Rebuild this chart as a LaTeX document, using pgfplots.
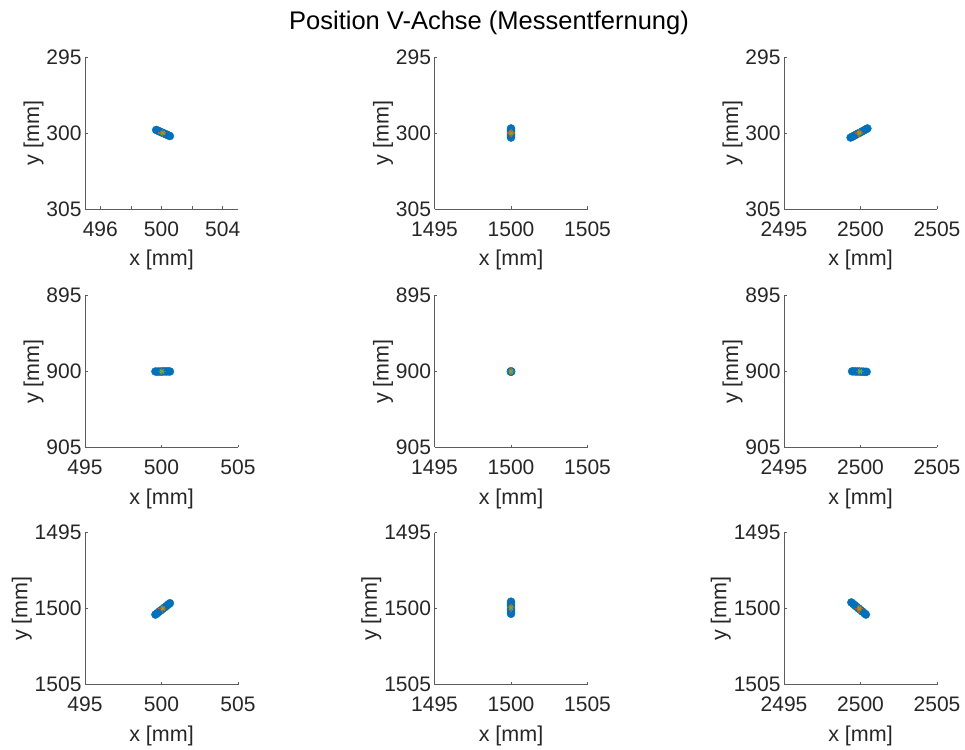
\documentclass[border=0pt]{standalone}
\usepackage{pgfplots}
\pgfplotsset{compat=1.18}
\usepackage{fontspec}
\setmainfont{Liberation Sans}
\definecolor{mblue}{RGB}{0,114,189}
\definecolor{morange}{RGB}{217,83,25}
\definecolor{mgreen}{RGB}{119,172,48}
\definecolor{axc}{RGB}{38,38,38}
\pgfplotsset{
 panel/.style={
  scale only axis, width=153pt, height=152pt,
  anchor=north west,
  axis x line=bottom, axis y line=left,
  axis line style={-, draw=axc!75, line width=0.6pt},
  y dir=reverse,
  tick style={draw=axc!75, line width=0.6pt},
  major tick length=2.5pt,
  tick align=inside,
  tick label style={font=\fontsize{21}{24}\selectfont, text=axc},
  xticklabel style={yshift=-9pt},
  label style={font=\fontsize{21.5}{24}\selectfont, text=axc},
  xlabel style={yshift=-7pt},
  ylabel style={yshift=-4pt},
  /pgf/number format/assume math mode=true,
  /pgf/number format/1000 sep={},
  xlabel={x [mm]}, ylabel={y [mm]},
  clip=false,
 },
 pblue/.style={only marks, mark=*, mark size=4pt, mark options={draw=mblue, fill=mblue}},
 pgreen/.style={only marks, mark=x, mark size=2.8pt, mark options={draw=mgreen, line width=1.3pt}},
 porange/.style={only marks, mark=+, mark size=4pt, mark options={draw=morange, line width=1.3pt}},
}
\begin{document}
\begin{tikzpicture}
\path (0pt,0pt) rectangle (965pt,747pt);
\node[font=\fontsize{25.5}{28}\selectfont, text=black] at (489pt,724pt) {Position V-Achse (Messentfernung)};
% Row 1
\begin{axis}[panel, at={(85pt,690pt)}, xmin=495, xmax=505, ymin=295, ymax=305,
  xtick={496,498,500,502,504}, xticklabels={496,,500,,504}, ytick={295,300,305}]
\addplot[pblue] coordinates {(499.65,299.80) (499.75,299.84) (499.85,299.89) (499.95,299.93) (500.05,299.98) (500.15,300.02) (500.25,300.07) (500.35,300.11) (500.45,300.16) (500.55,300.20)};
\addplot[porange] coordinates {(500.05,300.00)};
\addplot[pgreen] coordinates {(500.08,300.00)};
\end{axis}
\begin{axis}[panel, at={(434.5pt,690pt)}, xmin=1495, xmax=1505, ymin=295, ymax=305,
  xtick={1495,1500,1505}, ytick={295,300,305}]
\addplot[pblue] coordinates {(1500,299.70) (1500,299.78) (1500,299.85) (1500,299.93) (1500,300.00) (1500,300.08) (1500,300.15) (1500,300.23) (1500,300.30)};
\addplot[porange] coordinates {(1500,300.00)};
\addplot[pgreen] coordinates {(1500,300.00)};
\end{axis}
\begin{axis}[panel, at={(784pt,690pt)}, xmin=2495, xmax=2505, ymin=295, ymax=305,
  xtick={2495,2500,2505}, ytick={295,300,305}]
\addplot[pblue] coordinates {(2499.35,300.30) (2499.47,300.24) (2499.60,300.17) (2499.72,300.10) (2499.85,300.03) (2499.97,299.97) (2500.10,299.90) (2500.22,299.83) (2500.35,299.76) (2500.45,299.70)};
\addplot[porange] coordinates {(2499.90,300.00)};
\addplot[pgreen] coordinates {(2499.92,300.00)};
\end{axis}
% Row 2
\begin{axis}[panel, at={(85pt,451.5pt)}, xmin=495, xmax=505, ymin=895, ymax=905,
  xtick={495,500,505}, ytick={895,900,905}]
\addplot[pblue] coordinates {(499.60,900.00) (499.72,900.01) (499.84,900.00) (499.96,900.01) (500.08,900.00) (500.20,899.99) (500.32,900.00) (500.44,899.99) (500.55,900.00)};
\addplot[porange] coordinates {(500.00,900.00)};
\addplot[pgreen] coordinates {(500.02,900.00)};
\end{axis}
\begin{axis}[panel, at={(434.5pt,451.5pt)}, xmin=1495, xmax=1505, ymin=895, ymax=905,
  xtick={1495,1500,1505}, ytick={895,900,905}]
\addplot[pblue] coordinates {(1500.00,899.98) (1500.01,900.00) (1500.00,900.02) (1499.99,900.01)};
\addplot[porange] coordinates {(1500,900.00)};
\addplot[pgreen] coordinates {(1500,900.00)};
\end{axis}
\begin{axis}[panel, at={(784pt,451.5pt)}, xmin=2495, xmax=2505, ymin=895, ymax=905,
  xtick={2495,2500,2505}, ytick={895,900,905}]
\addplot[pblue] coordinates {(2499.45,899.99) (2499.57,899.99) (2499.69,900.00) (2499.81,900.00) (2499.93,900.00) (2500.05,900.01) (2500.17,900.01) (2500.29,900.02) (2500.40,900.02)};
\addplot[porange] coordinates {(2499.95,900.00)};
\addplot[pgreen] coordinates {(2499.97,900.00)};
\end{axis}
% Row 3
\begin{axis}[panel, at={(85pt,214.5pt)}, xmin=495, xmax=505, ymin=1495, ymax=1505,
  xtick={495,500,505}, ytick={1495,1500,1505}]
\addplot[pblue] coordinates {(499.60,1500.40) (499.72,1500.31) (499.84,1500.21) (499.96,1500.12) (500.08,1500.03) (500.20,1499.93) (500.32,1499.84) (500.44,1499.74) (500.55,1499.65)};
\addplot[porange] coordinates {(500.05,1500.00)};
\addplot[pgreen] coordinates {(500.08,1500.00)};
\end{axis}
\begin{axis}[panel, at={(434.5pt,214.5pt)}, xmin=1495, xmax=1505, ymin=1495, ymax=1505,
  xtick={1495,1500,1505}, ytick={1495,1500,1505}]
\addplot[pblue] coordinates {(1500,1499.55) (1500,1499.65) (1500,1499.75) (1500,1499.85) (1500,1499.95) (1500,1500.05) (1500,1500.15) (1500,1500.25) (1500,1500.35)};
\addplot[porange] coordinates {(1500,1499.95)};
\addplot[pgreen] coordinates {(1500,1499.95)};
\end{axis}
\begin{axis}[panel, at={(784pt,214.5pt)}, xmin=2495, xmax=2505, ymin=1495, ymax=1505,
  xtick={2495,2500,2505}, ytick={1495,1500,1505}]
\addplot[pblue] coordinates {(2499.40,1499.60) (2499.52,1499.70) (2499.64,1499.80) (2499.76,1499.90) (2499.88,1500.00) (2500.00,1500.10) (2500.12,1500.20) (2500.24,1500.30) (2500.35,1500.40)};
\addplot[porange] coordinates {(2499.90,1500.00)};
\addplot[pgreen] coordinates {(2499.92,1500.00)};
\end{axis}
\end{tikzpicture}
\end{document}
